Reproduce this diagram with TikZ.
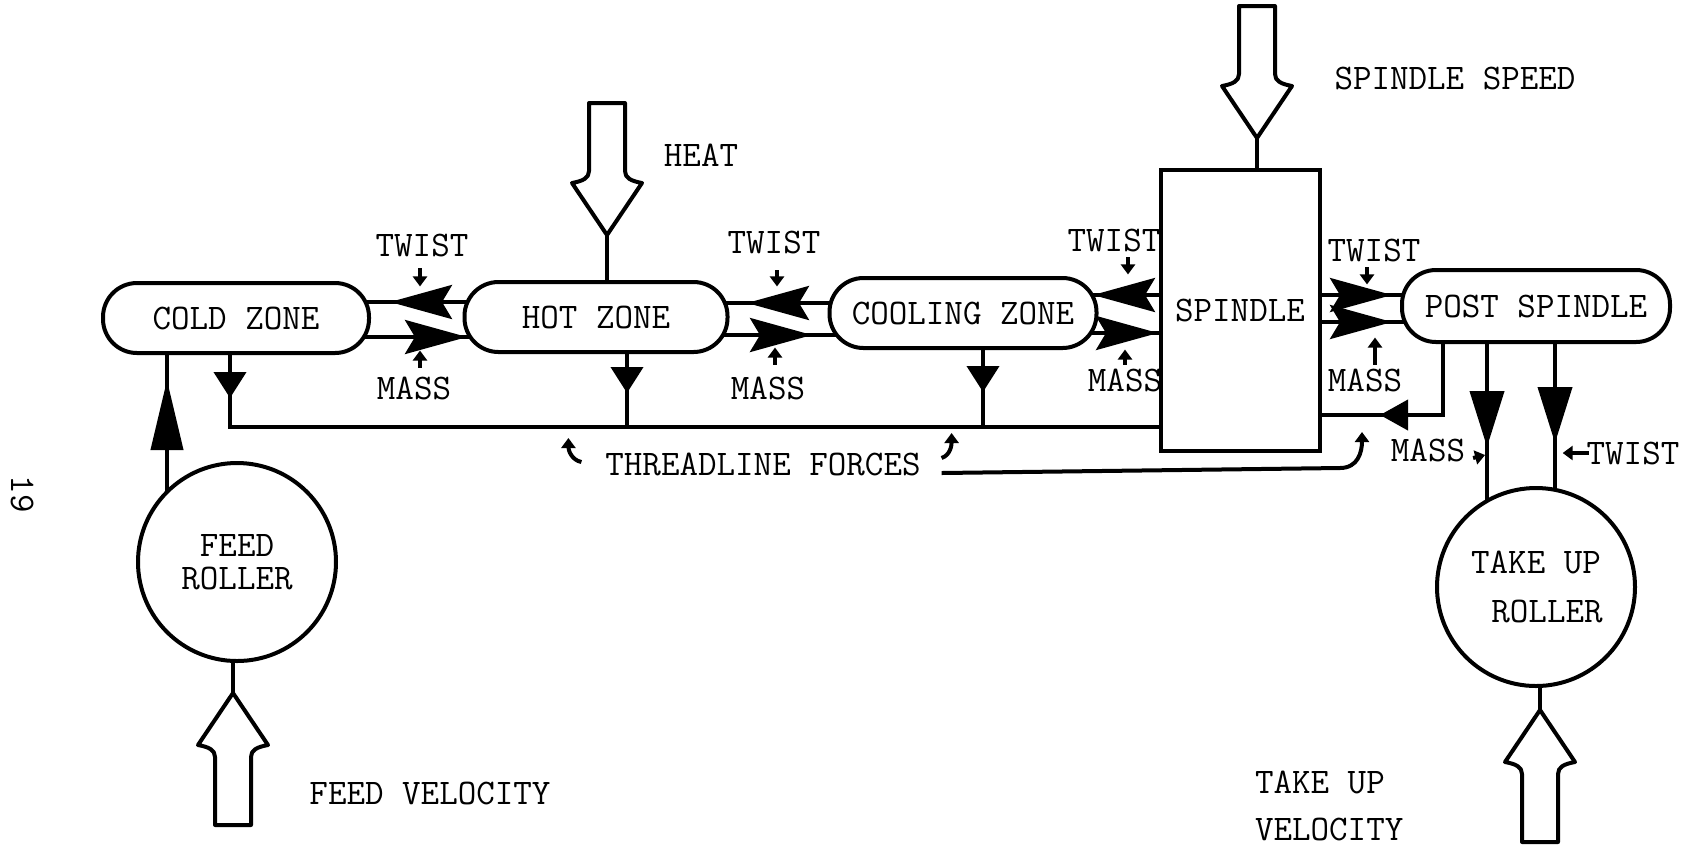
\documentclass[tikz,border=0pt]{standalone}
\usetikzlibrary{arrows.meta,backgrounds,decorations.markings}

\tikzset{
    zone/.style={draw, fill=white, rounded corners=17pt, minimum width=133pt, minimum height=35pt, inner sep=0pt},
    roller/.style={draw, fill=white, circle, minimum size=99pt, inner sep=0pt, align=center},
    tag/.style={inner sep=0pt},
    tick/.style={-{Triangle[length=5pt,width=7pt]}},
    flowtip/.tip={Stealth[length=31pt,width=17pt,inset=5pt]},
    droptip/.tip={Triangle[length=13pt,width=16pt]},
    droptall/.tip={Triangle[length=28pt,width=17pt]},
    arrow at/.style 2 args={postaction={decorate},
        decoration={markings, mark=at position #1 with {\arrow{#2}}}},
    back at/.style 2 args={postaction={decorate},
        decoration={markings, mark=at position #1 with {\arrowreversed{#2}}}},
    bigarrow/.pic={
        \draw[line join=round] (-18,-132) -- (-18,-64) .. controls (-18,-57) and (-24,-54) .. (-35,-52)
            -- (0,0) -- (35,-52) .. controls (24,-54) and (18,-57) .. (18,-64) -- (18,-132) -- cycle;
    }
}

\begin{document}
\begin{tikzpicture}[x=0.5pt, y=-0.5pt, every path/.style={line width=2pt},
    font=\ttfamily\fontsize{18}{21}\selectfont]
\useasboundingbox (0,0) rectangle (1697,848);

% zones along the threadline
\node[zone] (cold) at (236,318) {COLD ZONE};
\node[zone, minimum width=131.5pt] (hot) at (596,317) {HOT ZONE};
\node[zone, minimum width=133.5pt] (cool) at (963,313) {COOLING ZONE};
\node[draw, fill=white, minimum width=79.5pt, minimum height=140.5pt, inner sep=0pt] (spindle) at (1240,310) {SPINDLE};
\node[zone, minimum width=134pt, minimum height=36pt] (post) at (1536,306) {POST SPINDLE};

% rollers
\node[roller] (feed) at (237,562) {FEED\\[-4.5pt]ROLLER};
\node[roller] (takeup) at (1536,587) {TAKE UP\\[3.5pt]\hspace*{11pt}ROLLER};

% inputs (big hollow arrows)
\coordinate (heat) at (607,235);
\coordinate (speed) at (1257,138);
\coordinate (feedin) at (233,693);
\coordinate (takein) at (1540,710);
\pic at (heat) {bigarrow};
\pic at (speed) {bigarrow};
\pic[rotate=180] at (feedin) {bigarrow};
\pic[rotate=180] at (takein) {bigarrow};

\coordinate (thread) at (230,427);
\coordinate (ret) at (1443,415);
\coordinate (hotdrop) at ([xshift=15.5pt]hot.center);
\coordinate (cooldrop) at ([xshift=10pt]cool.center);
\coordinate (feedout) at ([xshift=-35pt]feed.center);
\coordinate (massout) at ([xshift=-24.5pt]post.center);
\coordinate (twistout) at ([xshift=9.5pt]post.center);

\begin{pgfonlayer}{background}
    \draw (heat) -- (heat |- hot.center);
    \draw (speed) -- (speed |- spindle.center);
    \draw (feedin) -- (feedin |- feed.center);
    \draw (takein) -- (takein |- takeup.center);

    % twist runs back, mass runs forward
    \draw[back at={77pt}{flowtip}] (cold.center |- 0,302) -- (hot.center |- 0,302);
    \draw[arrow at={115.5pt}{flowtip}] (cold.center |- 0,337) -- (hot.center |- 0,337);
    \draw[back at={75.5pt}{flowtip}] (hot.center |- 0,303) -- (cool.center |- 0,303);
    \draw[arrow at={108pt}{flowtip}] (hot.center |- 0,335) -- (cool.center |- 0,335);
    \draw[back at={65pt}{flowtip}] (cool.center |- 0,295) -- (spindle.center |- 0,295);
    \draw[arrow at={97.5pt}{flowtip}] (cool.center |- 0,333) -- (spindle.center |- 0,333);
    \draw[arrow at={76pt}{flowtip}] (spindle.center |- 0,295) -- (post.center |- 0,295);
    \draw[arrow at={76pt}{flowtip}] (spindle.center |- 0,322) -- (post.center |- 0,322);

    % threadline forces
    \draw[arrow at={40pt}{droptip}] (thread |- cold.center) -- (thread) -- (thread -| spindle.center);
    \draw[arrow at={38pt}{droptip}] (hotdrop) -- (hotdrop |- thread);
    \draw[arrow at={39.5pt}{droptip}] (cooldrop) -- (cooldrop |- thread);
    \draw[arrow at={86pt}{Triangle[length=14pt,width=15pt]}] (ret |- post.center) -- (ret) -- (ret -| spindle.center);

    % feed and take up
    \draw[arrow at={91pt}{Triangle[length=35pt,width=16pt]}] (feedout) -- (feedout |- cold.center);
    \draw[arrow at={70.5pt}{droptall}] (massout) -- (massout |- takeup.center);
    \draw[arrow at={68.5pt}{droptall}] (twistout) -- (twistout |- takeup.center);
\end{pgfonlayer}

% labels
\node[tag] (heatlbl) at (701,155) {HEAT};
\node[tag] (speedlbl) at (1455,78) {SPINDLE SPEED};
\node[tag] (feedlbl) at (430,793) {FEED VELOCITY};
\node[tag, align=left, anchor=west] (takelbl) at (1253,806) {TAKE UP\\[2.5pt]VELOCITY};
\node[tag, rotate=-90] (page) at (22,494) {19};

\node[tag] (tw1) at (422,245) {TWIST};
\node[tag] (ms1) at (414,388) {MASS};
\node[tag] (tw2) at (774,242) {TWIST};
\node[tag] (ms2) at (768,388) {MASS};
\node[tag] (tw3) at (1114,240) {TWIST};
\node[tag] (ms3) at (1125,380) {MASS};
\node[tag] (tw4) at (1374,250) {TWIST};
\node[tag] (ms4) at (1365,380) {MASS};
\node[tag] (msr) at (1428,450) {MASS};
\node[tag] (twr) at (1633,453) {TWIST};

\draw[tick] (tw1.south) ++(-2,10) -- ++(0,18);
\draw[tick] (ms1.north) ++(6,-7) -- ++(0,-17);
\draw[tick] (tw2.south) ++(3,15) -- ++(0,16);
\draw[tick] (ms2.north) ++(7,-10) -- ++(0,-17);
\draw[tick] (tw3.south) ++(14,4) -- ++(0,17);
\draw[tick] (ms3.north) ++(0,-2) -- ++(0,-15);
\draw[tick] (tw4.south) ++(-7,4) -- ++(0,17);
\draw[tick] (ms4.north) ++(10,-2) -- ++(0,-27);
\draw[tick] (msr.east) ++(6,8) -- ++(12,-3);
\draw[tick] (twr.west) ++(4,0) -- ++(-26,0);

% threadline forces note
\node[tag] (tf) at (763,464) {THREADLINE FORCES};
\coordinate (retforce) at (1362,432);
\draw[tick] ([xshift=-11pt,yshift=1pt]tf.west) .. controls +(-10,-2) and +(0,12) .. ([xshift=-17.5pt,yshift=13pt]tf.west);
\draw[tick] ([xshift=9.5pt,yshift=3pt]tf.east) .. controls +(9,-3) and +(0,12) .. ([xshift=14.5pt,yshift=15.5pt]tf.east);
\draw[tick] ([xshift=9.5pt,yshift=-4.5pt]tf.east) -- (1340,468) .. controls (1358,468) and (1362,452) .. (retforce);
\end{tikzpicture}
\end{document}
